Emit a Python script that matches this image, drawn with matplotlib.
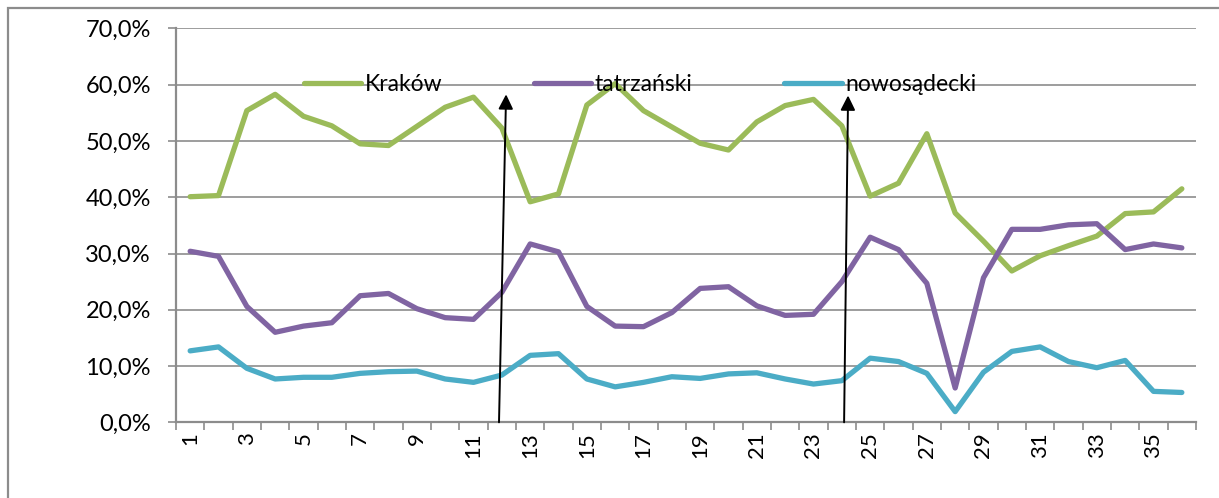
#!/usr/bin/env python3
"""
Line chart: shares for Kraków, tatrzański and nowosądecki over 36 periods.
"""

import matplotlib
matplotlib.use("Agg")
import matplotlib.pyplot as plt
from matplotlib.patches import Rectangle
from matplotlib.ticker import FuncFormatter, FixedLocator

plt.rcParams['font.family'] = ['Lato', 'DejaVu Sans']

# -------------------------------------------------------------
# Data
# -------------------------------------------------------------
periods = list(range(1, 37))

krakow = [40.1, 40.3, 55.4, 58.3, 54.4, 52.7, 49.5, 49.2, 52.6, 56.0,
          57.8, 52.3, 39.2, 40.6, 56.4, 60.2, 55.4, 52.5, 49.6, 48.4,
          53.4, 56.3, 57.4, 52.7, 40.2, 42.5, 51.3, 37.2, 32.2, 26.9,
          29.6, 31.4, 33.1, 37.1, 37.4, 41.5]

tatrzanski = [30.4, 29.5, 20.6, 16.0, 17.1, 17.7, 22.5, 22.9, 20.2, 18.6,
              18.3, 23.1, 31.7, 30.3, 20.6, 17.1, 17.0, 19.5, 23.8, 24.1,
              20.7, 19.0, 19.2, 25.0, 32.9, 30.7, 24.7, 6.1, 25.7, 34.3,
              34.3, 35.1, 35.3, 30.7, 31.7, 31.0]

nowosadecki = [12.7, 13.4, 9.6, 7.7, 8.0, 8.0, 8.7, 9.0, 9.1, 7.7,
               7.1, 8.4, 11.9, 12.2, 7.7, 6.3, 7.1, 8.1, 7.8, 8.6,
               8.8, 7.7, 6.8, 7.4, 11.4, 10.8, 8.7, 1.9, 8.9, 12.6,
               13.4, 10.8, 9.7, 11.0, 5.5, 5.3]

series_names = ["Kraków", "tatrzański", "nowosądecki"]
series_colors = ["#9BBB59", "#8064A2", "#4BACC6"]

# arrows: (x at axis, x at tip, tip value in %)
arrows = [(11.9, 12.15, 58.3), (24.08, 24.22, 58.1)]

# -------------------------------------------------------------
# Plot
# -------------------------------------------------------------
W, H = 1219, 498
fig = plt.figure(figsize=(W / 100, H / 100), dpi=100)
ax = fig.add_axes([176 / W, 1 - 422.3 / H, (1196 - 176) / W, (422.3 - 28.5) / H])

# outer chart frame (right and bottom edges fall outside the picture)
fig.patches.append(Rectangle((7.5 / W, -0.2), 1.1, 1.2 - 8 / H,
                             transform=fig.transFigure, fill=False,
                             edgecolor="#8c8c8c", lw=1.6))

for vals, name, col in zip([krakow, tatrzanski, nowosadecki], series_names, series_colors):
    ax.plot(periods, [v / 100 for v in vals], color=col, lw=3.8, label=name,
            solid_joinstyle="round", solid_capstyle="round", zorder=3)

for x0, x1, top in arrows:
    ax.annotate("", xy=(x1, top / 100), xytext=(x0, 0.0),
                arrowprops=dict(arrowstyle="-|>", color="black", lw=1.4,
                                mutation_scale=22, shrinkA=0, shrinkB=0),
                annotation_clip=False, zorder=4)

ax.set_xlim(0.5, 36.5)
ax.set_ylim(0, 0.70)

ax.set_yticks([i / 10 for i in range(8)])
ax.yaxis.set_major_formatter(FuncFormatter(lambda v, p: f"{v * 100:.1f}%".replace(".", ",")))
ax.grid(axis="y", color="#8c8c8c", lw=1.2, zorder=1)
ax.set_axisbelow(True)

ax.xaxis.set_major_locator(FixedLocator(periods[::2]))
ax.set_xticklabels([str(p) for p in periods[::2]], rotation=90)
ax.xaxis.set_minor_locator(FixedLocator([p - 0.5 for p in periods] + [36.5]))

ax.tick_params(axis="x", which="major", length=0, pad=7, labelsize=16)
ax.tick_params(axis="x", which="minor", length=6, width=1.2, color="#8c8c8c")
ax.tick_params(axis="y", length=6, width=1.2, color="#8c8c8c", pad=12, labelsize=17)

for s in ["top", "right"]:
    ax.spines[s].set_visible(False)
for s in ["left", "bottom"]:
    ax.spines[s].set_color("#8c8c8c")
    ax.spines[s].set_linewidth(1.6)

ax.legend(loc="center", bbox_to_anchor=(0.455, 0.857), ncol=3, frameon=False,
          fontsize=16.5, handlelength=2.5, handletextpad=0.15, columnspacing=4.0)

fig.savefig("out.png", dpi=100)
